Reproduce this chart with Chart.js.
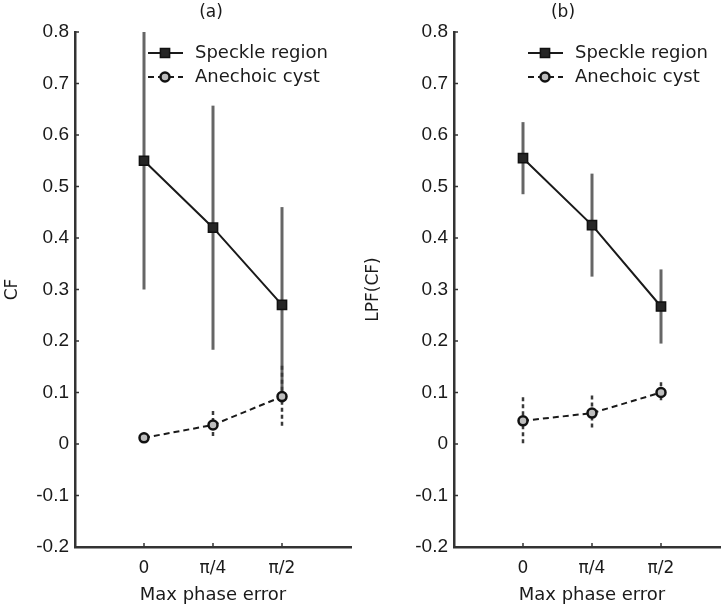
<!DOCTYPE html>
<html>
<head>
<meta charset="utf-8">
<script src="https://cdn.jsdelivr.net/npm/chart.js@4.4.1/dist/chart.umd.min.js"></script>
<style>
    html, body { margin: 0; padding: 0; background: #fff; overflow: hidden; width: 721px; height: 612px; }
    .panel { position: absolute; top: 0; height: 612px; }
    #panelA { left: 0; width: 360px; }
    #panelB { left: 360px; width: 380px; }
</style>
</head>
<body>
<div class="panel" id="panelA"><canvas id="chartA"></canvas></div>
<div class="panel" id="panelB"><canvas id="chartB"></canvas></div>
<script>
// x positions of the three phase-error settings and their tick labels
const phaseX = [1, 2, 3];
const phaseLabels = ['0', 'π/4', 'π/2'];
const seriesNames = ['Speckle region', 'Anechoic cyst'];

// (a) CF
const speckleCF = [0.55, 0.42, 0.27];
const speckleCFErr = [0.25, 0.237, 0.19];
const cystCF = [0.012, 0.037, 0.092];
const cystCFErr = [0.01, 0.027, 0.06];

// (b) LPF(CF)
const speckleLPF = [0.555, 0.425, 0.267];
const speckleLPFErr = [0.07, 0.10, 0.072];
const cystLPF = [0.045, 0.06, 0.10];
const cystLPFErr = [0.046, 0.034, 0.02];

const FONT = "'DejaVu Sans', sans-serif";
const NUM_FONT = "'Liberation Sans', Arial, sans-serif";
const TEXT = '#1a1a1a';

const toPoints = (ys) => ys.map((y, i) => ({ x: phaseX[i], y: y }));

// vertical error bars, drawn under the lines and markers
const errorBars = {
    id: 'errorBars',
    beforeDatasetsDraw(chart) {
        const { ctx, scales: { x, y } } = chart;
        chart.data.datasets.forEach((ds) => {
            ctx.save();
            ctx.strokeStyle = ds.errColor;
            ctx.lineWidth = ds.errWidth;
            ctx.setLineDash(ds.errDash);
            ds.data.forEach((p, i) => {
                const px = x.getPixelForValue(p.x);
                ctx.beginPath();
                ctx.moveTo(px, y.getPixelForValue(p.y + ds.errors[i]));
                ctx.lineTo(px, y.getPixelForValue(p.y - ds.errors[i]));
                ctx.stroke();
            });
            ctx.restore();
        });
    }
};

// inward tick marks, panel letter and the legend box
const decorations = {
    id: 'decorations',
    afterDraw(chart, args, opts) {
        const { ctx, chartArea: area, scales: { x, y } } = chart;
        ctx.save();
        ctx.strokeStyle = '#333';
        ctx.lineWidth = 1.5;
        y.ticks.forEach((t) => {
            const py = y.getPixelForValue(t.value);
            ctx.beginPath();
            ctx.moveTo(area.left, py);
            ctx.lineTo(area.left + 4, py);
            ctx.stroke();
        });
        x.ticks.forEach((t) => {
            const px = x.getPixelForValue(t.value);
            ctx.beginPath();
            ctx.moveTo(px, area.bottom);
            ctx.lineTo(px, area.bottom - 4);
            ctx.stroke();
        });

        ctx.fillStyle = TEXT;
        ctx.font = '17px ' + FONT;
        ctx.textAlign = 'center';
        ctx.textBaseline = 'middle';
        ctx.fillText(opts.letter, area.left + opts.letterOffset, 13);

        // legend
        chart.data.datasets.forEach((ds, i) => {
            const ly = area.top + 21 + i * 24;
            const lx = area.left + opts.legendOffset;
            ctx.save();
            ctx.strokeStyle = ds.borderColor;
            ctx.lineWidth = ds.borderWidth;
            ctx.setLineDash(ds.borderDash || []);
            ctx.beginPath();
            ctx.moveTo(lx, ly);
            ctx.lineTo(lx + 35, ly);
            ctx.stroke();
            ctx.setLineDash([]);
            ctx.fillStyle = ds.pointBackgroundColor;
            ctx.strokeStyle = ds.pointBorderColor;
            ctx.lineWidth = ds.pointBorderWidth;
            Chart.helpers.drawPoint(ctx, {
                pointStyle: ds.pointStyle, radius: ds.pointRadius,
                borderWidth: ds.pointBorderWidth, rotation: 0
            }, lx + 17, ly);
            ctx.restore();
            ctx.fillStyle = TEXT;
            ctx.font = '18px ' + FONT;
            ctx.textAlign = 'left';
            ctx.fillText(ds.label, lx + 47, ly);
        });
        ctx.restore();
    }
};

function makePanel(canvasId, opts) {
    return new Chart(document.getElementById(canvasId), {
        type: 'line',
        data: {
            datasets: [{
                label: seriesNames[0],
                data: toPoints(opts.speckle),
                errors: opts.speckleErr,
                errColor: '#666',
                errWidth: 3,
                errDash: [],
                borderColor: '#1a1a1a',
                borderWidth: 2,
                pointStyle: 'rect',
                pointRadius: 6.5,
                pointBackgroundColor: '#262626',
                pointBorderColor: '#111',
                pointBorderWidth: 1.5
            }, {
                label: seriesNames[1],
                data: toPoints(opts.cyst),
                errors: opts.cystErr,
                errColor: '#3a3a3a',
                errWidth: 2.5,
                errDash: [4, 3],
                borderColor: '#1a1a1a',
                borderWidth: 2,
                borderDash: [6, 4],
                pointStyle: 'circle',
                pointRadius: 4.5,
                pointBackgroundColor: '#bdbdbd',
                pointBorderColor: '#111',
                pointBorderWidth: 2.5
            }]
        },
        options: {
            responsive: true,
            maintainAspectRatio: false,
            animation: false,
            layout: { padding: { top: 32, right: opts.padRight, left: 0, bottom: 0 } },
            plugins: {
                legend: { display: false },
                tooltip: { enabled: false },
                decorations: { letter: opts.letter, letterOffset: opts.letterOffset, legendOffset: opts.legendOffset }
            },
            scales: {
                x: {
                    type: 'linear',
                    min: 0,
                    max: 4,
                    afterBuildTicks: (s) => { s.ticks = phaseX.map((v) => ({ value: v })); },
                    afterFit: (s) => { s.height = 65; },
                    grid: { display: true, drawOnChartArea: false, drawTicks: false },
                    border: { display: true, color: '#333', width: 2.5 },
                    ticks: {
                        padding: 11,
                        color: TEXT,
                        font: { family: FONT, size: 17 },
                        callback: (v) => phaseLabels[phaseX.indexOf(v)]
                    },
                    title: {
                        display: true,
                        text: 'Max phase error',
                        color: TEXT,
                        font: { family: FONT, size: 18 },
                        padding: { top: 0, bottom: 6 }
                    }
                },
                y: {
                    min: -0.2,
                    max: 0.8,
                    afterFit: (s) => { s.width = opts.axisWidth; },
                    grid: { display: true, drawOnChartArea: false, drawTicks: false },
                    border: { display: true, color: '#333', width: 2.5 },
                    ticks: {
                        stepSize: 0.1,
                        padding: 6,
                        color: TEXT,
                        font: { family: NUM_FONT, size: 19 },
                        callback: (v) => String(Number(v.toFixed(1)))
                    },
                    title: {
                        display: true,
                        text: opts.yTitle,
                        color: TEXT,
                        font: { family: FONT, size: 17 },
                        padding: { top: opts.yTitlePad, bottom: 0 }
                    }
                }
            }
        },
        plugins: [errorBars, decorations]
    });
}

makePanel('chartA', {
    letter: '(a)', yTitle: 'CF',
    speckle: speckleCF, speckleErr: speckleCFErr, cyst: cystCF, cystErr: cystCFErr,
    axisWidth: 75, padRight: 9, yTitlePad: 2, letterOffset: 136, legendOffset: 73
});

makePanel('chartB', {
    letter: '(b)', yTitle: 'LPF(CF)',
    speckle: speckleLPF, speckleErr: speckleLPFErr, cyst: cystLPF, cystErr: cystLPFErr,
    axisWidth: 94, padRight: 10, yTitlePad: 3, letterOffset: 109, legendOffset: 74
});
</script>
</body>
</html>
